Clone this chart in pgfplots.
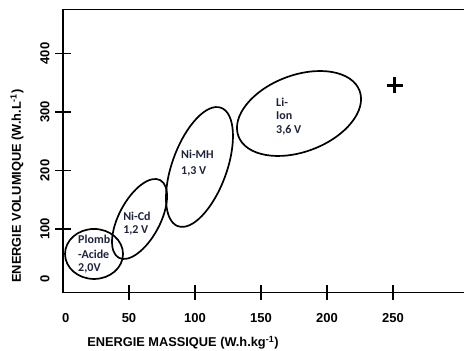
\documentclass[border=0pt]{standalone}
\usepackage{pgfplots}
\pgfplotsset{compat=1.18}
\usepackage{fontspec}
\setmainfont{Liberation Sans}
\newfontfamily\carlito{Carlito}
\definecolor{lbl}{RGB}{30,35,60}
\begin{document}
\begin{tikzpicture}
\begin{axis}[
  at={(0,0)}, anchor=south west,
  scale only axis, width=401pt, height=283.4pt,
  xmin=0, xmax=303.8, ymin=-8.9, ymax=475.5,
  clip=false,
  axis x line=box, axis y line=left,
  axis line style={-, line width=1.3pt, black},
  xtick pos=bottom, ytick pos=left,
  xtick={50,100,150,200,250},
  ytick={100,200,300,400},
  extra x ticks={2}, extra x tick labels={0}, extra y ticks={14}, extra y tick labels={0},
  extra tick style={major tick style={draw=none}},
  tick align=center, major tick length=15pt,
  tick style={line width=1.3pt, black},
  /pgf/number format/assume math mode=true,
  ticklabel style={font=\bfseries\fontsize{13}{13}\selectfont},
  xticklabel style={anchor=center, yshift=-18pt},
  yticklabel style={xshift=-10.5pt, rotate=90, anchor=center},
  xlabel={ENERGIE MASSIQUE (W.h.kg\textsuperscript{-1})},
  ylabel={ENERGIE VOLUMIQUE (W.h.L\textsuperscript{-1})},
  label style={font=\bfseries\fontsize{12.8}{13}\selectfont},
  xlabel style={at={(axis description cs:0.299,-0.1764)}, anchor=center},
  ylabel style={at={(axis description cs:-0.1147,0.3765)}, anchor=center},
]
\draw[line width=1.7pt] (axis cs:23.5,57.3) ellipse [x radius=29pt, y radius=25pt];
\draw[line width=1.7pt, rotate around={62:(axis cs:58,117.1)}] (axis cs:58,117.1) ellipse [x radius=44pt, y radius=20.6pt];
\draw[line width=1.7pt, rotate around={70:(axis cs:103.4,206)}] (axis cs:103.4,206) ellipse [x radius=63pt, y radius=27.3pt];
\draw[line width=1.7pt, rotate around={20.6:(axis cs:178.8,297.4)}] (axis cs:178.8,297.4) ellipse [x radius=64.7pt, y radius=38.3pt];
\addplot[only marks, mark=+, mark size=8pt, line width=3pt, black] coordinates {(251.5,346)};
\tikzset{lb/.style={anchor=west, inner sep=0pt, font=\carlito\bfseries\fontsize{12}{12}\selectfont, text=lbl}}
\node[lb] at (axis cs:11.4,82.9) {Plomb};
\node[lb] at (axis cs:11.4,57.3) {-Acide};
\node[lb] at (axis cs:11.4,33.3) {2,0V};
\node[lb] at (axis cs:45.5,122.2) {Ni-Cd};
\node[lb] at (axis cs:45.5,98.3) {1,2 V};
\node[lb] at (axis cs:89.4,228.2) {Ni-MH};
\node[lb] at (axis cs:89.4,199.1) {1,3 V};
\node[lb] at (axis cs:161.4,317.1) {Li-};
\node[lb] at (axis cs:161.4,293.2) {Ion};
\node[lb] at (axis cs:161.4,269.2) {3,6 V};
\end{axis}
\pgfresetboundingbox
\path[use as bounding box] (-63pt,-58.3pt) rectangle (401pt,292.7pt);
\end{tikzpicture}
\end{document}
